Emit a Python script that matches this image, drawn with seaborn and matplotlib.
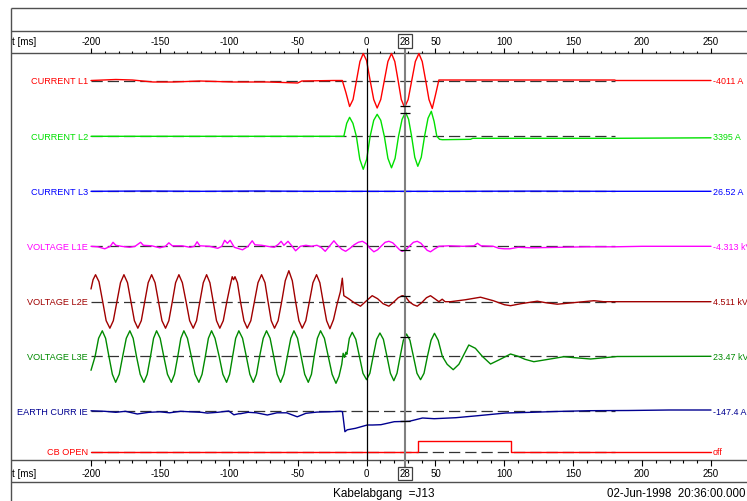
import numpy as np
import pandas as pd
import matplotlib
matplotlib.use("Agg")
import matplotlib.pyplot as plt
import seaborn as sns

sns.set_theme(style="white")
plt.rcParams["font.family"] = ["Liberation Sans", "DejaVu Sans"]

# ---------------- data (t in ms, deflection v in display units, + = up) ----------------
channels = ["CURRENT L1", "CURRENT L2", "CURRENT L3", "VOLTAGE L1E",
            "VOLTAGE L2E", "VOLTAGE L3E", "EARTH CURR IE", "CB OPEN"]
readouts = ["-4011 A", "3395 A", "26.52 A", "-4.313 kV", "4.511 kV",
            "23.47 kV", "-147.4 A", "off"]
cursor_ms = 28
tick_major = [-200, -150, -100, -50, 0, 50, 100, 150, 200, 250]
footer_left = "Kabelabgang  =J13"
footer_right = "02-Jun-1998  20:36:00.000"

t_l1 = [-200, -182, -170, -155, -140, -121, -97, -72, -60, -50, -47, -24, -19, -17.6,
        -15, -12.3, -9.8, -7.3, -4.8, -2.4, 0, 2.6, 5.2, 7.7, 10.3, 12.9, 15.5, 18.1,
        20.5, 22.9, 25.2, 27.6, 30.2, 32.8, 35.4, 38, 40.4, 42.9, 45.3, 47.7, 50.1,
        52.5, 100, 180, 181, 250]
v_l1 = [0, 1, 0.5, -1.5, -1.5, -0.5, -1.5, -1.5, -2, -2.5, -0.5, 0, 0, 0,
        -12, -26, -19, 0, 19, 27, 20, 0, -19, -27.5, -19, 0, 19, 27,
        19, 0, -19, -27, -19, 0, 19, 27, 19, 0, -19, -28, -14,
        0.5, 0.5, 0.5, 0, 0]

t_l2 = [-200, -16.5, -14.4, -12.3, -9.9, -7.4, -4.9, -2.4, 0.1, 2.6, 5.2, 7.7, 10.3,
        12.9, 15.5, 18.1, 20.7, 23.2, 25.8, 28.3, 30.5, 32.7, 35, 37.2, 39.7, 42.1,
        44.6, 47, 49, 51, 53, 55, 75.5, 77, 180, 250]
v_l2 = [0, 0, 13, 19, 13, 0, -23, -33, -23, 0, 16, 22, 16,
        0, -22, -31.5, -22, 0, 17, 24, 17, 0, -21, -30, -21, 0,
        18, 25, 15, 0, -3, -3.4, -3, -2, -2, -1.5]

t_l3 = [-200, -160, -120, -80, -40, 0, 60, 120, 180, 250]
v_l3 = [0, 0.3, 0, 0.3, 0, 0, 0, 0.2, 0, 0]

t_l1e = [-200, -195, -190, -186, -184, -182, -178, -172, -168, -164, -162, -156, -150,
         -146, -143.5, -141, -134, -128, -125, -123, -121, -114, -108, -105, -103, -101,
         -99, -96, -90, -86, -83, -81, -76, -72, -67, -64, -62, -60, -57, -54, -51.5,
         -48, -44, -40, -36, -33, -30, -27, -23.7, -21, -18, -15.2, -12, -9, -6, -3, 0,
         2.5, 5.3, 8, 10.5, 13.5, 16.2, 19, 21.5, 24, 25.9, 28, 31, 34, 36.8, 39.5, 42,
         44, 46.4, 49, 52.5, 60, 70, 78, 80.5, 83, 92, 96, 100, 104, 110, 120, 140,
         160, 180, 200, 250]
v_l1e = [0, -0.5, -2.5, 0, 4, 1, 0, -1, 0, 4, 1, 0.5, -1.5,
         0, 3.5, 0.5, 0.5, -1, 0, 4.5, 0.5, 0, -2, 0, 6, 3,
         6, -1, -3.5, 0, 5.5, 1.5, 1, 0, -1, 2, 5, 1, 5, 0, -4.5,
         0, 1, 0, 1, -1, -5, 0, 5.5, 1, -3, -5, -2, 1.5, 4, 5, 2.5,
         -2, -5.5, -3.5, 0, 4, 5, 3.5, 0, -3.5, -5, -4, 0, 4, 5, 3, -1,
         -4, -5.5, -3, 0, 0.5, 0, 0.5, 3, 0.5, 0, -2, -2.5, -2.5, -1, -1.5, -1,
         -0.5, -0.5, 0, 0]

t_l2e = [-200, -198.5, -196.7, -194.2, -191.5, -189, -186.3, -183.8, -181.2, -178.6,
         -176.1, -173.5, -171, -168.5, -166, -163.5, -161, -158.5, -156, -153.5, -151,
         -148.5, -145.9, -143.5, -141, -138.6, -136.2, -133.7, -131, -128.4, -125.8,
         -123.4, -121, -118.5, -116.1, -113.7, -111.3, -108.9, -106.5, -104, -101.4,
         -99, -97.5, -96.5, -95.5, -93.7, -91.5, -89, -86.6, -84, -81.4, -78.8, -76.2,
         -73.7, -71.5, -69.2, -66.8, -64.2, -61.6, -59, -56.4, -53.9, -51.5, -49.1,
         -46.7, -44.1, -41.5, -38.9, -36.3, -33.9, -31.5, -29, -26.6, -24, -21.5, -19,
         -17.6, -17, -16.5, -13, -9, -4.4, 0, 4.1, 8, 12, 16.2, 20, 23, 25.9, 28, 31,
         34, 36.8, 40, 43.5, 46.4, 49.5, 52.5, 54.9, 57, 61, 72, 82.7, 92, 100, 104.5,
         112, 123.9, 130, 138.4, 150, 165, 172, 250]
v_l2e = [12.7, 22, 27, 20, 0, -19, -26.5, -19, 0, 19,
         27, 19, 0, -19, -26.5, -19, 0, 19, 27, 19, 0,
         -19, -26.5, -19, 0, 19, 27, 19, 0, -19, -26.5,
         -19, 0, 19, 27, 19, 0, -19, -26.5, -19, 0,
         16, 25, 22, 25, 19, 0, -19, -26.5, -19, 0, 19, 27,
         19, 0, -19, -26.5, -19, 0, 21, 31, 21, 0, -19,
         -26.5, -19, 0, 19, 27, 19, 0, -19, -27, -18, -3, 10,
         23.5, 14, 6, 3, -1, -4.5, 1, 6, 3, -2, -4.5, 0, 4, 6, 5.5, 0,
         -3, -4.5, -1, 4, 6, 3, 0, 2.5, 0, 0, 2, 4.5, 1, -3, -4,
         -2, 0.5, -1, -2.5, -1, 1, 0, 0]

t_l3e = [-200, -197, -194.5, -191.8, -189.4, -187, -184.5, -182.1, -179.5, -177, -174.4,
         -171.8, -169.4, -167, -164.3, -161.6, -159.2, -156.8, -154.6, -152.4, -149.8,
         -147.2, -144.5, -141.7, -139.4, -137, -134.8, -132.6, -130, -127.2, -124.5,
         -121.7, -119.4, -117, -114.8, -112.5, -110, -107, -104.3, -101.6, -99.4, -97.2,
         -95, -92.7, -90, -87.3, -84.7, -82.2, -79.9, -77.6, -75, -72.6, -70, -67.4,
         -64.9, -62.4, -60, -57.5, -55, -52.7, -50.1, -47.5, -44.9, -42.3, -40, -38,
         -35.7, -33.4, -30.6, -27.8, -25, -22.2, -20, -18, -17, -16, -15, -14.3, -12.5,
         -10.4, -7.8, -5.2, -2.6, 0, 2.4, 4.8, 7.3, 9.7, 12.2, 14.8, 17.3, 19.8, 22.1,
         24.4, 26.7, 29, 31.5, 34, 36.6, 39.2, 41.7, 44.2, 46.8, 49.3, 52, 55, 58.5,
         62.9, 67, 70, 74.2, 79, 84, 90, 97, 104.5, 110, 115, 121.4, 132, 143.2, 152,
         162.6, 172, 181.9, 250]
v_l3e = [-14, 0, 18, 25.5, 18, 0, -18, -26, -18, 0, 18,
         25.5, 18, 0, -18, -26, -18, 0, 18, 25.5, 18,
         0, -18, -26, -18, 0, 18, 25.5, 18, 0, -18,
         -26, -18, 0, 18, 25.5, 18, 0, -18, -26, -18, 0,
         18, 25.5, 18, 0, -18, -26, -18, 0, 18, 25.5, 18, 0,
         -18, -26, -18, 0, 18, 25.5, 18, 0, -18, -26, -18, 0,
         18, 25.5, 18, 0, -18, -27, -20, -8, 3, -1, 4, 2, 18,
         24, 17, 0, -17, -23.4, -17, 0, 17, 23.3, 17, 0, -17, -24.4, -17,
         0, 16, 22.3, 16, 0, -17, -23.4, -17, 0, 16, 23, 16, 0, -8,
         -13.4, -8, 0, 11.3, 8, 0, -7.7, -3, 2.3, 0, -3, -5.4, -3, -0.4, -1.5,
         -2.7, -1.5, -0.2, 0]

t_ie = [-200, -190, -182, -175, -166.4, -158, -150, -143, -135, -128, -120, -115.6, -108,
        -100, -96.3, -93, -91.4, -86, -80, -72, -65, -58, -50.3, -44, -36, -27, -19,
        -17.5, -15.7, -14, -8, 0.5, 4.4, 10.4, 20.1, 31, 40.6, 49.1, 64.8, 80, 101.1,
        120, 137.4, 161.6, 190, 219.6, 250]
v_ie = [0.5, 0, -1, 0, -2.7, -1, -0.5, -1.5, 0, -0.5, -1, -1.8, -1,
        0.3, -3.5, -2.5, -2.4, -1, -1.5, -3.7, -1.5, -1.5, -5.5, -2, -0.8, -0.5, 0,
        -0.3, -20.4, -18.5, -17, -13.7, -13.7, -13.4, -10.4, -10, -6.7, -7.4, -6.4, -4.5, -1.7,
        -1, -0.2, 0.6, 0.8, 1.3, 1.3]

t_cb = [-200, 37.5, 37.5, 104.7, 104.7, 250]
v_cb = [0, 0, 10.7, 10.7, 0, 0]

series_t = [t_l1, t_l2, t_l3, t_l1e, t_l2e, t_l3e, t_ie, t_cb]
series_v = [v_l1, v_l2, v_l3, v_l1e, v_l2e, v_l3e, v_ie, v_cb]

# ---------------- styling / layout ----------------
colors = ["#ff0000", "#00e000", "#0000ff", "#ff00ff", "#a00000", "#008a00", "#000090", "#ff0000"]
baselines = [81.5, 137.3, 192.3, 247.3, 302.7, 357.3, 412.3, 452.7]  # rows in pixels
W, H = 747, 502
ppm = (711 - 91) / 450.0          # pixels per ms
x0 = 91 + 200 * ppm               # pixel of t = 0


def px2t(px):
    return (px - x0) / ppm


fig = plt.figure(figsize=(W / 100, H / 100), dpi=100)
ax = fig.add_axes([0, 0, 1, 1])

frame = "#505050"
xl, xr = px2t(11), px2t(W + 2)
for yy in [9, 32, 54, 461, 483]:
    ax.hlines(yy, xl, xr, color=frame, lw=1.0, zorder=1)
ax.vlines(xl, 9, H, color=frame, lw=1.0)

# ticks
minor = [m for m in range(-200, 251, 10) if m not in tick_major]
ax.vlines(tick_major, 49, 54, color="black", lw=0.8)
ax.vlines(minor, 51.5, 54, color="black", lw=0.8)
ax.vlines(tick_major, 461, 467, color="black", lw=0.8)
ax.vlines(minor, 461, 464, color="black", lw=0.8)
for tm in tick_major:
    ax.text(tm, 42, str(tm), ha="center", va="center", fontsize=7, color="black")
    ax.text(tm, 474.5, str(tm), ha="center", va="center", fontsize=7, color="black")
for yy in [42, 474.5]:
    ax.text(px2t(12), yy, "t [ms]", ha="left", va="center", fontsize=7, color="black")
    ax.text(cursor_ms, yy, str(cursor_ms), ha="center", va="center", fontsize=7,
            color="black", zorder=6,
            bbox=dict(boxstyle="square,pad=0.2", fc="white", ec="#404040", lw=0.9))

# vertical time markers
ax.vlines(0, 54, 461, color="black", lw=0.9, zorder=4)
ax.vlines(cursor_ms, 47, 470, color="#808080", lw=1.5, zorder=4)

# traces
for name, tt, vv, col, base, rd in zip(channels, series_t, series_v, colors, baselines, readouts):
    ax.plot([-200, 180], [base, base], color="#333333", lw=0.9, dashes=(9, 4), zorder=2)
    df = pd.DataFrame({"t": tt, "y": base - np.asarray(vv, dtype=float)})
    sns.lineplot(data=df, x="t", y="y", color=col, lw=1.0, estimator=None,
                 sort=False, ax=ax, zorder=3)
    ax.text(px2t(88), base, name, ha="right", va="center", fontsize=6.6, color=col)
    ax.text(px2t(713), base, rd, ha="left", va="center", fontsize=6.4, color=col)
    if name != "CB OPEN" and name != "CURRENT L3":
        yc = base - np.interp(cursor_ms, tt, vv)
        ax.hlines(yc, cursor_ms - 3.6, cursor_ms + 3.6, color="black", lw=0.9, zorder=5)

ax.set_xlim(px2t(0), px2t(W))
ax.set_ylim(H, 0)
ax.set_axis_off()

ax.text(px2t(333), 494, footer_left, ha="left", va="center", fontsize=8.5, color="black")
ax.text(px2t(607), 494, footer_right, ha="left", va="center", fontsize=8.3, color="black")

fig.savefig("out.png", dpi=100, facecolor="white")
